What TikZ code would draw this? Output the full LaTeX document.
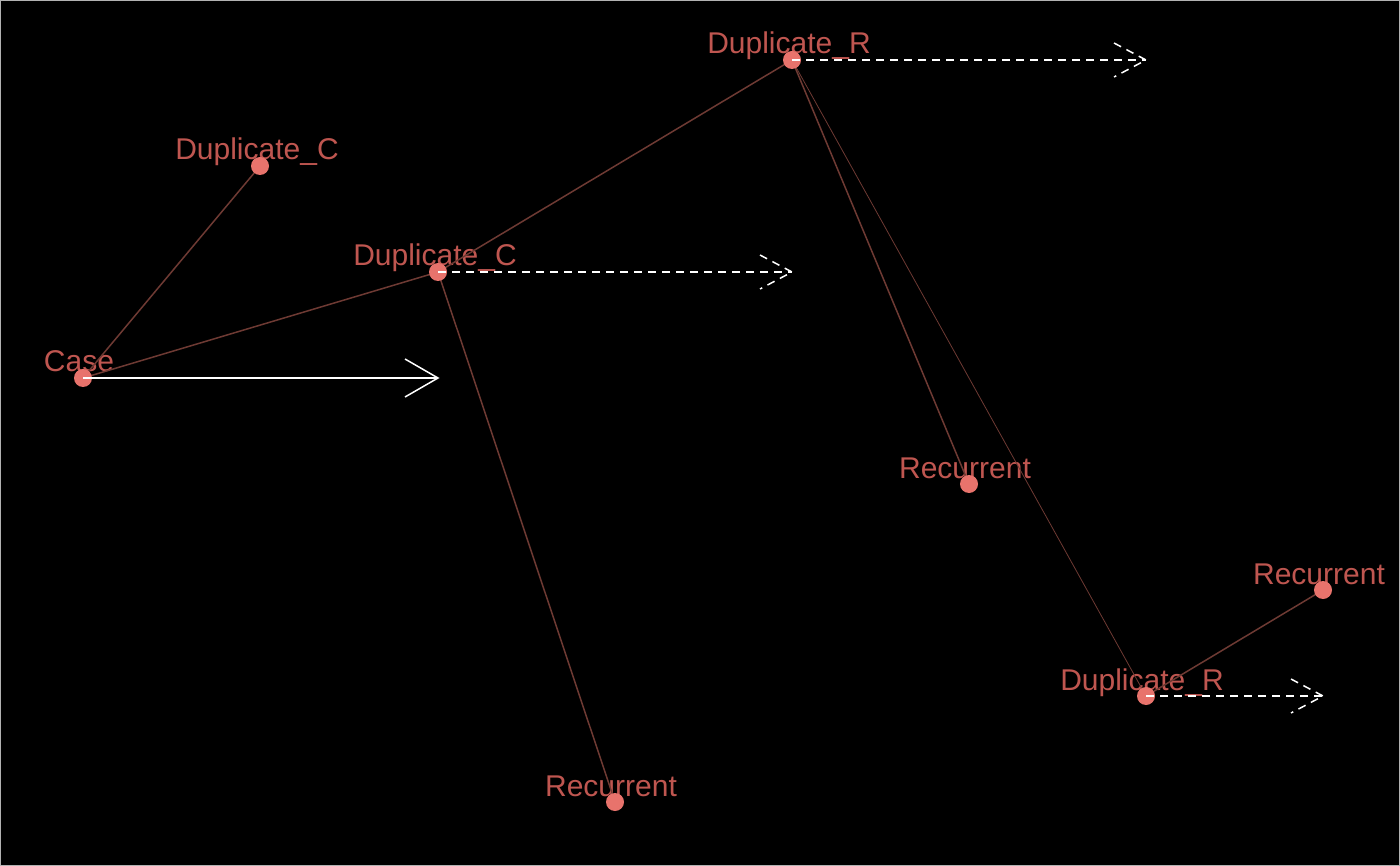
\documentclass[tikz,border=0pt]{standalone}
\usepackage{fontspec}
\setmainfont{Liberation Sans}
\definecolor{dotc}{HTML}{E8736C}
\definecolor{labc}{HTML}{BF5650}
\definecolor{edgec}{HTML}{6E3A33}
\begin{document}
\begin{tikzpicture}[x=1pt,y=-1pt,
  vert/.style={circle,fill=dotc,inner sep=0pt,minimum size=18pt},
  lab/.style={text=labc,font=\fontsize{30}{34}\selectfont,anchor=base,inner sep=0pt},
  edge/.style={draw=edgec,line width=1.5pt},
  thinedge/.style={draw=edgec,line width=0.8pt},
  arr/.style={draw=white,line width=1.5pt},
  darr/.style={draw=white,line width=1.5pt,dash pattern=on 8pt off 6pt}]
\fill[black] (0,0) rectangle (1400,866);
\draw[gray!60,line width=1pt] (0.5,0.5) rectangle (1399.5,865.5);
\useasboundingbox (0,0) rectangle (1400,866);
% vertex positions
\coordinate (pCase) at (83,378);
\coordinate (pDC1) at (260,166);
\coordinate (pDC2) at (438,272);
\coordinate (pDR1) at (792,60);
\coordinate (pRec1) at (969,484);
\coordinate (pRec2) at (615,802);
\coordinate (pRec3) at (1323,590);
\coordinate (pDR2) at (1146,696);
% labels
\node[lab] (lCase) at ([shift={(-4,-6)}]pCase) {Case};
\node[lab] (lDC1) at ([shift={(-3,-6)}]pDC1) {Duplicate\_C};
\node[lab] (lDC2) at ([shift={(-3,-6)}]pDC2) {Duplicate\_C};
\node[lab] (lDR1) at ([shift={(-3,-6)}]pDR1) {Duplicate\_R};
\node[lab] (lRec1) at ([shift={(-4,-6)}]pRec1) {Recurrent};
\node[lab] (lRec2) at ([shift={(-4,-6)}]pRec2) {Recurrent};
\node[lab] (lRec3) at ([shift={(-4,-6)}]pRec3) {Recurrent};
\node[lab] (lDR2) at ([shift={(-4,-6)}]pDR2) {Duplicate\_R};
% edges
\draw[edge] (pCase) -- (pDC1);
\draw[edge] (pCase) -- (pDC2);
\draw[edge] (pDC2) -- (pDR1);
\draw[edge] (pDC2) -- (pRec2);
\draw[edge] (pDR1) -- (pRec1);
\draw[thinedge] (pDR1) -- (pDR2);
\draw[edge] (pDR2) -- (pRec3);
% vertices
\node[vert] (vCase) at (pCase) {};
\node[vert] (vDC1) at (pDC1) {};
\node[vert] (vDC2) at (pDC2) {};
\node[vert] (vDR1) at (pDR1) {};
\node[vert] (vRec1) at (pRec1) {};
\node[vert] (vRec2) at (pRec2) {};
\node[vert] (vRec3) at (pRec3) {};
\node[vert] (vDR2) at (pDR2) {};
% arrows
\coordinate (tCase) at (438,378);
\coordinate (tDC2) at (792,272);
\coordinate (tDR1) at (1146,60);
\coordinate (tDR2) at (1323,696);
\draw[arr] (vCase.center) -- (tCase);
\draw[arr] ([shift={(-33,-19)}]tCase) -- (tCase) -- ([shift={(-33,19)}]tCase);
\draw[darr] (vDC2.center) -- (tDC2);
\draw[darr] ([shift={(-32,-17)}]tDC2) -- (tDC2) -- ([shift={(-32,17)}]tDC2);
\draw[darr] (vDR1.center) -- (tDR1);
\draw[darr] ([shift={(-32,-17)}]tDR1) -- (tDR1) -- ([shift={(-32,17)}]tDR1);
\draw[darr] (vDR2.center) -- (tDR2);
\draw[darr] ([shift={(-32,-17)}]tDR2) -- (tDR2) -- ([shift={(-32,17)}]tDR2);
\end{tikzpicture}
\end{document}
